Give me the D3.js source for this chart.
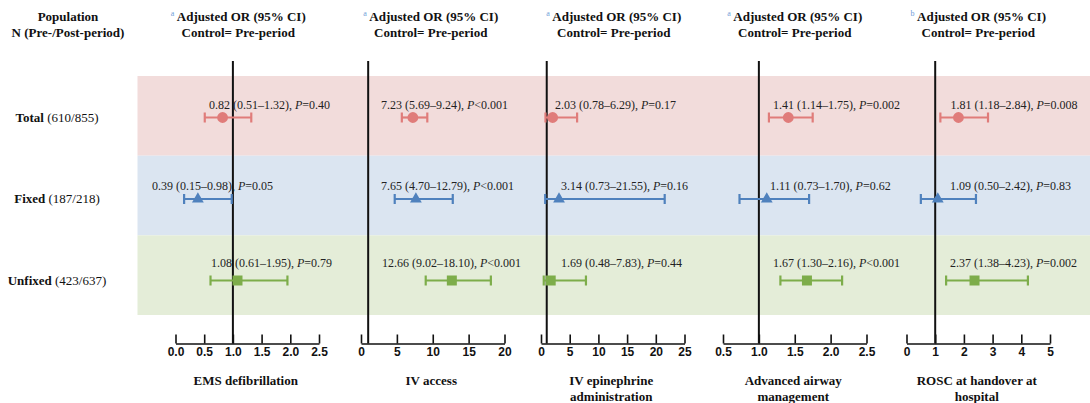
<!DOCTYPE html>
<html>
<head>
<meta charset="utf-8">
<script src="https://cdn.jsdelivr.net/npm/d3@7"></script>
<style>
  html, body { margin: 0; padding: 0; background: #fff; }
  svg { display: block; }
</style>
</head>
<body>
<svg id="chart" width="1090" height="403"></svg>
<script>
// ---- data ----
const groups = ["Total", "Fixed", "Unfixed"];
const groupN = ["(610/855)", "(187/218)", "(423/637)"];
const outcomeTitles = [
  ["EMS defibrillation"],
  ["IV access"],
  ["IV epinephrine", "administration"],
  ["Advanced airway", "management"],
  ["ROSC at handover at", "hospital"]
];
const footnoteMarks = ["a", "a", "a", "a", "b"];
// adjusted odds ratios per outcome, rows = Total, Fixed, Unfixed
const oddsRatio = [
  [0.82, 0.39, 1.08],
  [7.23, 7.65, 12.66],
  [2.03, 3.14, 1.69],
  [1.41, 1.11, 1.67],
  [1.81, 1.09, 2.37]
];
const ciLower = [
  [0.51, 0.15, 0.61],
  [5.69, 4.70, 9.02],
  [0.78, 0.73, 0.48],
  [1.14, 0.73, 1.30],
  [1.18, 0.50, 1.38]
];
const ciUpper = [
  [1.32, 0.98, 1.95],
  [9.24, 12.79, 18.10],
  [6.29, 21.55, 7.83],
  [1.75, 1.70, 2.16],
  [2.84, 2.42, 4.23]
];
const pValues = [
  ["0.40", "0.05", "0.79"],
  ["<0.001", "<0.001", "<0.001"],
  ["0.17", "0.16", "0.44"],
  ["0.002", "0.62", "<0.001"],
  ["0.008", "0.83", "0.002"]
];
const axisDomains = [[0, 2.5], [0, 20], [0, 25], [0.5, 2.5], [0, 5]];
const axisTicks = [
  [0, 0.5, 1, 1.5, 2, 2.5],
  [0, 5, 10, 15, 20],
  [0, 5, 10, 15, 20, 25],
  [0.5, 1, 1.5, 2, 2.5],
  [0, 1, 2, 3, 4, 5]
];
const tickFormats = [".1f", "d", "d", ".1f", "d"];
const referenceValue = 1;

// ---- layout ----
const panelLeft = [175.5, 361, 541, 723, 906.5];
const panelWidth = 143.5;
const headerNudge = [-9, -2, 1, 0, 0];
// left edge of each estimate label, relative to the panel's left edge
const labelOffset = [
  [33.5, -23.5, 35.5],
  [20, 20, 21],
  [14, 20, 20],
  [50, 47, 50],
  [44, 43.5, 43.5]
];
const labelLift = [8.5, 9.5, 13.5];
const bandTop = 76, bandBottom = 315;
const axisY = 343.5, refTop = 61;
const bandColors = ["#f2dcdb", "#dbe5f1", "#e4edd8"];
const markColors = ["#e07c7a", "#4f81bd", "#7dad4a"];
const markShapes = [d3.symbolCircle, d3.symbolTriangle, d3.symbolSquare];
const markSizes = [92, 60, 100];
const serif = "'Liberation Serif', 'Times New Roman', serif";
const sans = "'Liberation Sans', Arial, sans-serif";

const svg = d3.select("#chart");

const band = d3.scaleBand().domain(groups).range([bandTop, bandBottom]).padding(0);
const rowY = d3.scalePoint().domain(groups).range([117.5, 280.5]);

// background bands
svg.append("g").selectAll("rect")
  .data(groups)
  .join("rect")
  .attr("x", 137.5)
  .attr("y", d => band(d))
  .attr("width", 1090 - 137.5)
  .attr("height", band.bandwidth())
  .attr("fill", (d, i) => bandColors[i]);

// left column header
const popHead = svg.append("text")
  .attr("font-family", serif).attr("font-weight", "bold").attr("font-size", 13)
  .attr("text-anchor", "middle").attr("fill", "#111");
popHead.append("tspan").attr("x", 68).attr("y", 20.5).text("Population");
popHead.append("tspan").attr("x", 68).attr("y", 37).text("N (Pre-/Post-period)");

// row labels
groups.forEach((g, i) => {
  const t = svg.append("text")
    .attr("x", 57).attr("y", rowY(g) + 4)
    .attr("font-family", serif).attr("font-size", 13)
    .attr("text-anchor", "middle").attr("fill", "#111");
  t.append("tspan").attr("font-weight", "bold").text(g);
  t.append("tspan").text(" " + groupN[i]);
});

// one forest panel per outcome
outcomeTitles.forEach((title, p) => {
  const x = d3.scaleLinear().domain(axisDomains[p]).range([panelLeft[p], panelLeft[p] + panelWidth]);
  const cx = panelLeft[p] + panelWidth / 2;
  const g = svg.append("g");

  // header
  const h = g.append("text")
    .attr("font-family", serif).attr("font-weight", "bold").attr("font-size", 13)
    .attr("text-anchor", "middle").attr("fill", "#111");
  const l1 = h.append("tspan").attr("x", cx + headerNudge[p]).attr("y", 20.5);
  l1.append("tspan").attr("font-size", 8).attr("font-weight", "normal")
    .attr("fill", "#6fa0d8").attr("dy", -5).text(footnoteMarks[p]);
  l1.append("tspan").attr("dy", 5).text(" Adjusted OR (95% CI)");
  h.append("tspan").attr("x", cx + headerNudge[p]).attr("y", 37).text("Control= Pre-period");

  // axis
  const axis = d3.axisBottom(x)
    .tickValues(axisTicks[p])
    .tickFormat(d3.format(tickFormats[p]))
    .tickSizeInner(-9)
    .tickSizeOuter(0)
    .tickPadding(4);
  const ax = g.append("g").attr("transform", `translate(0,${axisY})`).call(axis);
  ax.select(".domain").attr("stroke", "#111").attr("stroke-width", 1.6);
  ax.selectAll(".tick line").attr("stroke", "#111").attr("stroke-width", 1.6);
  ax.selectAll(".tick text")
    .attr("font-family", sans).attr("font-weight", "bold").attr("font-size", 12)
    .attr("fill", "#111");

  // axis title
  const at = g.append("text")
    .attr("font-family", serif).attr("font-weight", "bold").attr("font-size", 13)
    .attr("text-anchor", "middle").attr("fill", "#111");
  title.forEach((line, k) => {
    at.append("tspan").attr("x", cx - 1.5).attr("y", 385 + k * 16).text(line);
  });

  // reference line at OR = 1
  g.append("line")
    .attr("x1", x(referenceValue)).attr("x2", x(referenceValue))
    .attr("y1", refTop).attr("y2", axisY)
    .attr("stroke", "#111").attr("stroke-width", 2);

  // confidence intervals, estimates and labels
  groups.forEach((grp, r) => {
    const y = rowY(grp);
    const col = markColors[r];
    const lo = x(ciLower[p][r]), hi = x(ciUpper[p][r]);
    g.append("line").attr("x1", lo).attr("x2", hi).attr("y1", y).attr("y2", y)
      .attr("stroke", col).attr("stroke-width", 2.2);
    [lo, hi].forEach(cxv => {
      g.append("line").attr("x1", cxv).attr("x2", cxv).attr("y1", y - 5).attr("y2", y + 5)
        .attr("stroke", col).attr("stroke-width", 2.2);
    });
    g.append("path")
      .attr("d", d3.symbol().type(markShapes[r]).size(markSizes[r])())
      .attr("transform", `translate(${x(oddsRatio[p][r])},${y})`)
      .attr("fill", col);

    const pv = pValues[p][r];
    const pText = pv.startsWith("<") ? pv : "=" + pv;
    const lab = g.append("text")
      .attr("x", panelLeft[p] + labelOffset[p][r])
      .attr("y", y - labelLift[r])
      .attr("font-family", serif).attr("font-size", 12).attr("fill", "#222");
    lab.append("tspan").text(
      `${oddsRatio[p][r].toFixed(2)} (${ciLower[p][r].toFixed(2)}\u2013${ciUpper[p][r].toFixed(2)}), `);
    lab.append("tspan").attr("font-style", "italic").text("P");
    lab.append("tspan").text(pText);
  });
});
</script>
</body>
</html>
